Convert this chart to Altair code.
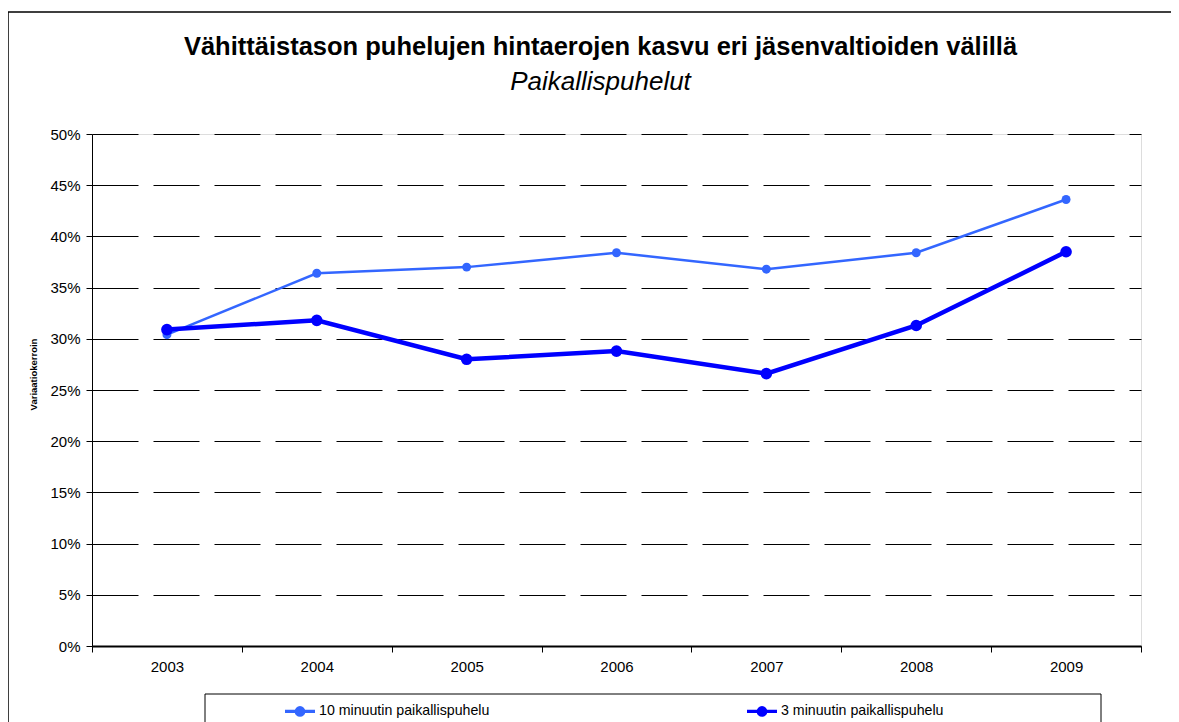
import altair as alt
import pandas as pd

years = ["2003", "2004", "2005", "2006", "2007", "2008", "2009"]
series_names = ["10 minuutin paikallispuhelu", "3 minuutin paikallispuhelu"]
ten_min = [0.304, 0.364, 0.370, 0.384, 0.368, 0.384, 0.436]
three_min = [0.309, 0.318, 0.280, 0.288, 0.266, 0.313, 0.385]
y_ticks = [0, 0.05, 0.10, 0.15, 0.20, 0.25, 0.30, 0.35, 0.40, 0.45, 0.50]
colors = ["#3366FF", "#0000FF"]

rows = []
for y, v in zip(years, ten_min):
    rows.append({"year": y, "series": series_names[0], "value": v})
for y, v in zip(years, three_min):
    rows.append({"year": y, "series": series_names[1], "value": v})
df = pd.DataFrame(rows)

FONT = "Liberation Sans"
W, H = 1049, 512

sym_path = ("M-1,0L1,0"
            "M-0.1,0A0.1,0.1,0,1,0,0.1,0A0.1,0.1,0,1,0,-0.1,0"
            "M-0.25,0A0.25,0.25,0,1,0,0.25,0A0.25,0.25,0,1,0,-0.25,0")

x_enc = alt.X("year:O", sort=years,
              scale=alt.Scale(type="band", paddingInner=0, paddingOuter=0),
              axis=alt.Axis(title=None, labelAngle=0, tickBand="extent", tickSize=6,
                            tickColor="black", domainColor="black", domainWidth=2,
                            labelFont=FONT, labelFontSize=15, labelColor="black",
                            labelPadding=7, grid=False))
y_enc = alt.Y("value:Q",
              scale=alt.Scale(domain=[0, 0.5], nice=False, zero=True),
              axis=alt.Axis(values=y_ticks, format=".0%", title="Variaatiokerroin",
                            titleFont=FONT, titleFontSize=9.5, titleFontWeight="bold",
                            titleColor="black", titleX=-54, titleY=240,
                            titleAngle=270, titleAlign="center", titleBaseline="bottom",
                            labelFont=FONT, labelFontSize=15, labelColor="black",
                            labelPadding=6, tickSize=6, tickColor="black",
                            domainColor="black", grid=True, gridColor="black",
                            gridDash=[46, 15], gridWidth=1))
color_enc = alt.Color("series:N",
                      scale=alt.Scale(domain=series_names, range=colors),
                      legend=alt.Legend(title=None, orient="none", direction="horizontal",
                                        legendX=191, legendY=560, padding=0,
                                        symbolType=sym_path, symbolSize=900,
                                        symbolStrokeWidth=3.2, labelOffset=2,
                                        labelFont=FONT, labelFontSize=14.2,
                                        labelColor="black", columnPadding=250,
                                        labelLimit=400))

base = alt.Chart(df)
light = base.transform_filter(alt.datum.series == series_names[0]).mark_line(
    strokeWidth=2.5, point=alt.OverlayMarkDef(size=80, filled=True, opacity=1)
).encode(x=x_enc, y=y_enc, color=color_enc)
dark = base.transform_filter(alt.datum.series == series_names[1]).mark_line(
    strokeWidth=4.5, point=alt.OverlayMarkDef(size=135, filled=True, opacity=1)
).encode(x=x_enc, y=y_enc, color=color_enc)

frame_df = pd.DataFrame({"k": [0]})
outer = alt.Chart(frame_df).mark_rect(fillOpacity=0, stroke="black", strokeWidth=1.5).encode(
    x=alt.value(-84), x2=alt.value(1100), y=alt.value(-122), y2=alt.value(640))
legend_box = alt.Chart(frame_df).mark_rect(fillOpacity=0, stroke="black", strokeWidth=1).encode(
    x=alt.value(113), x2=alt.value(1009), y=alt.value(560), y2=alt.value(640))

chart = alt.layer(light, dark, outer, legend_box).properties(
    width=W, height=H,
    autosize=alt.AutoSizeParams(type="none"),
    padding={"left": 84, "top": 126, "right": 30, "bottom": 76},
    title=alt.TitleParams(
        text="Vähittäistason puhelujen hintaerojen kasvu eri jäsenvaltioiden välillä",
        subtitle="Paikallispuhelut",
        font=FONT, fontSize=25.5, fontWeight="bold", color="black",
        subtitleFont=FONT, subtitleFontSize=26, subtitleFontStyle="italic",
        subtitleColor="black", subtitlePadding=9,
        anchor="middle", dx=-16, offset=-84),
).configure_view(stroke="black", strokeWidth=1).configure(background="white")

chart.save("out.html", embed_options={"renderer": "svg", "actions": False})
